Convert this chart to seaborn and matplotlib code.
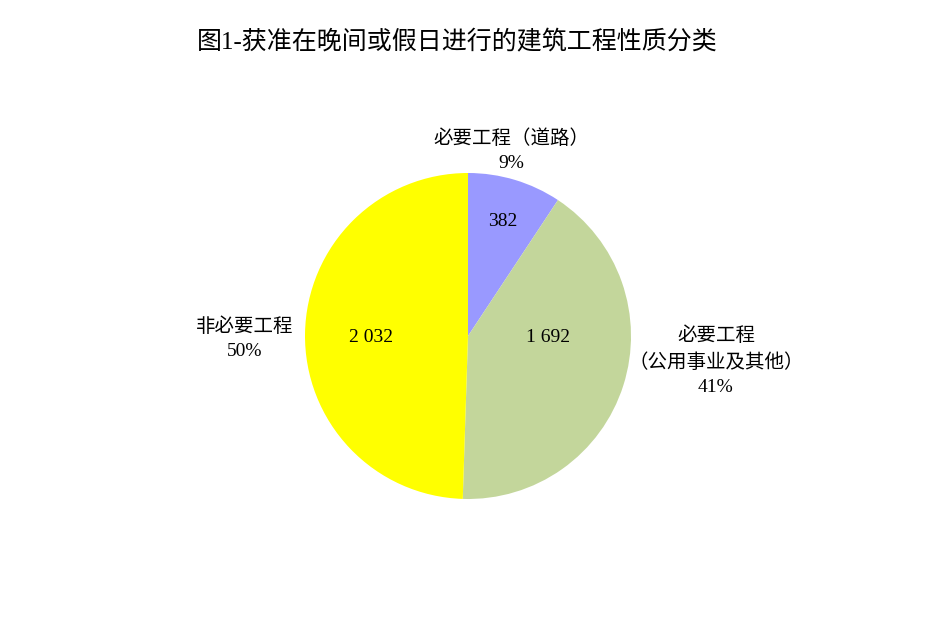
import matplotlib
matplotlib.use('Agg')
import matplotlib.pyplot as plt
import seaborn as sns

# --- Data ---
categories = ['必要工程（道路）', '必要工程\n（公用事业及其他）', '非必要工程']
values = [382, 1692, 2032]
value_labels = ['382', '1 692', '2 032']
pct_labels = ['9%', '41%', '50%']
colors = ['#9999FF', '#C3D69B', '#FFFF00']
title = '图1-获准在晚间或假日进行的建筑工程性质分类'

# --- Layout (pixel positions in the 940x627 frame) ---
W, H = 940, 627
CX, CY, R = 468, 336, 163
name_pos = [(511, 151), (716, 361), (245, 339)]
value_pos = [(503, 221), (548, 337), (371, 337)]
FONTS = ['Liberation Serif', 'Noto Sans CJK SC', 'DejaVu Sans']


def to_data(px, py):
    return (px - CX) / R, (CY - py) / R


sns.set_theme(style='white')
plt.rcParams['font.family'] = FONTS
plt.rcParams['text.color'] = 'black'

fig = plt.figure(figsize=(W / 100, H / 100), dpi=100)
ax = fig.add_axes([0, 0, 1, 1])
ax.pie(values, colors=colors, startangle=90, counterclock=False, radius=1,
       wedgeprops=dict(linewidth=0))
ax.set_xlim(-CX / R, (W - CX) / R)
ax.set_ylim(-(H - CY) / R, CY / R)
ax.set_aspect('auto')
ax.axis('off')

for name, pct, pos in zip(categories, pct_labels, name_pos):
    x, y = to_data(*pos)
    ax.text(x, y, f'{name}\n{pct}', ha='center', va='center', fontsize=14,
            linespacing=1.55, family=FONTS, color='black')

for lab, pos in zip(value_labels, value_pos):
    x, y = to_data(*pos)
    ax.text(x, y, lab, ha='center', va='center', fontsize=14, family=FONTS,
            color='black')

fig.text(457 / W, 1 - 42 / H, title, ha='center', va='center', fontsize=18,
         family=FONTS, color='black')

fig.savefig('out.png', dpi=100, facecolor='white')
